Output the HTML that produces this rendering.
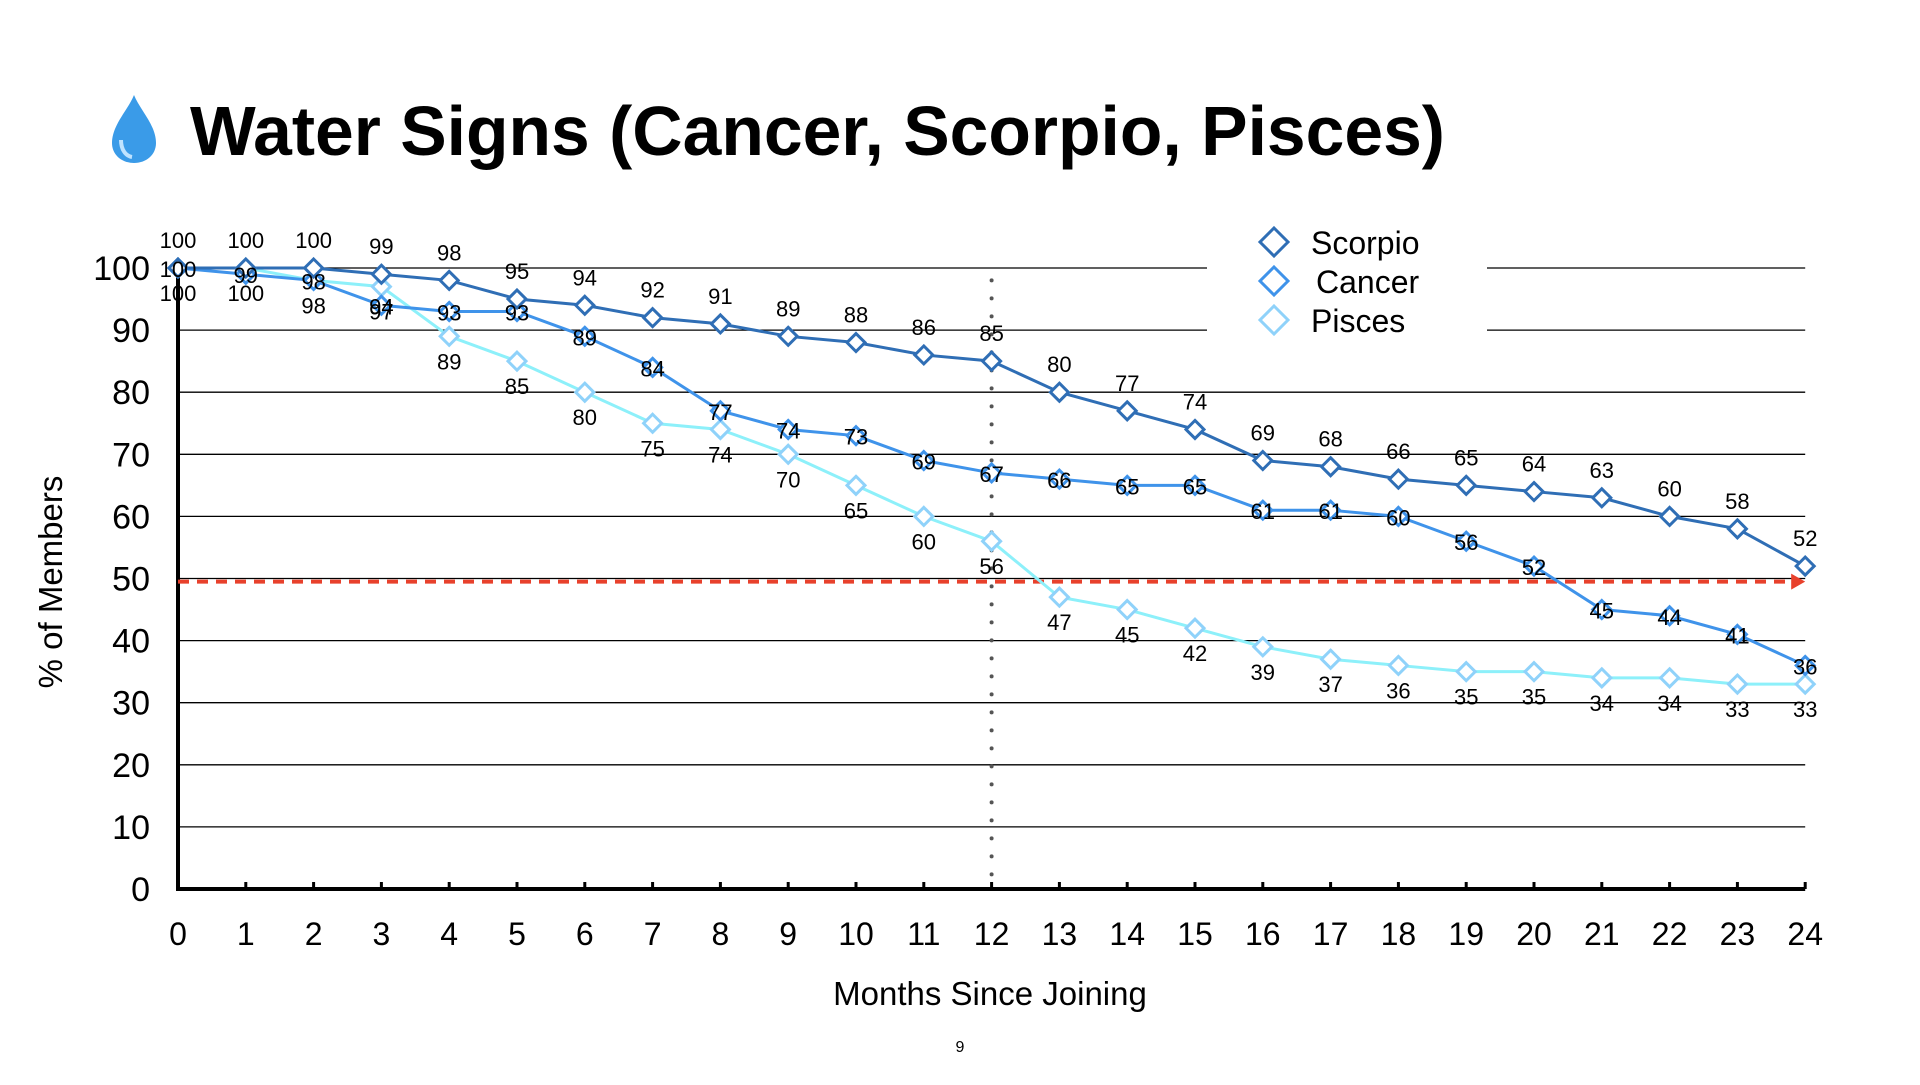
<!DOCTYPE html>
<html><head><meta charset="utf-8"><style>
body{margin:0;background:#fff;}
text{font-family:"Liberation Sans",sans-serif;}
</style></head><body>
<svg id="chart" width="1920" height="1080" viewBox="0 0 1920 1080" xmlns="http://www.w3.org/2000/svg">
<g>
<path d="M134,95 C128,110 112,125 112,143 C112,155 122,163 134,163 C146,163 156,155 156,143 C156,125 140,110 134,95 Z" fill="#3a9be8"/>
<path d="M121,140 C121,150 126,156 132,157" stroke="#bfe3ff" stroke-width="4" fill="none"/>
</g>
<text x="190" y="155" font-size="70" font-weight="bold" fill="#000" textLength="1255" lengthAdjust="spacingAndGlyphs">Water Signs (Cancer, Scorpio, Pisces)</text>
<g id="grid"></g>
<g id="marks"></g>
<text transform="translate(62,582) rotate(-90)" text-anchor="middle" font-size="33">% of Members</text>
<text x="990" y="1005" text-anchor="middle" font-size="33">Months Since Joining</text>
<text x="960" y="1052" text-anchor="middle" font-size="16">9</text>
</svg>
<script>
const months=[0,1,2,3,4,5,6,7,8,9,10,11,12,13,14,15,16,17,18,19,20,21,22,23,24];
const scorpio=[100,100,100,99,98,95,94,92,91,89,88,86,85,80,77,74,69,68,66,65,64,63,60,58,52];
const cancer=[100,99,98,94,93,93,89,84,77,74,73,69,67,66,65,65,61,61,60,56,52,45,44,41,36];
const pisces=[100,100,98,97,89,85,80,75,74,70,65,60,56,47,45,42,39,37,36,35,35,34,34,33,33];
const yTicks=[0,10,20,30,40,50,60,70,80,90,100];
const seriesNames=["Scorpio","Cancer","Pisces"];
const threshold=49.5;
const markerMonth=12;
const NS="http://www.w3.org/2000/svg";
const X=m=>178+m*67.8;
const Y=v=>889-v*6.21;
function mk(tag,attrs,parent){const e=document.createElementNS(NS,tag);for(const k in attrs)e.setAttribute(k,attrs[k]);parent.appendChild(e);return e;}
const grid=document.getElementById('grid'),marks=document.getElementById('marks');
yTicks.forEach(t=>{
 if(t>0){const l=mk('line',{x1:X(0),x2:X(24),y1:Y(t),y2:Y(t),stroke:'#000','stroke-width':1.3},grid);
 
 }
 const tx=mk('text',{x:150,y:Y(t)+12,'text-anchor':'end','font-size':34},grid);tx.textContent=t;
 
 
});
months.forEach(m=>{
 const tk=mk('line',{x1:X(m),x2:X(m),y1:Y(0),y2:Y(0)-7,stroke:'#000','stroke-width':3},grid);
 
 
 const tx=mk('text',{x:X(m),y:945,'text-anchor':'middle','font-size':32},grid);tx.textContent=m;
 
 
});
const ax=mk('path',{d:`M${X(0)},${Y(100)} V${Y(0)} H${X(24)}`,stroke:'#000','stroke-width':4,fill:'none'},grid);


const lb=mk('rect',{x:1207,y:222,width:280,height:120,fill:'#fff'},grid);


const vl=mk('line',{x1:X(markerMonth),x2:X(markerMonth),y1:Y(98),y2:Y(0),stroke:'#555','stroke-width':4,'stroke-dasharray':'0 18','stroke-linecap':'round'},marks);


const rl=mk('line',{x1:X(0),x2:X(24)-10,y1:Y(threshold),y2:Y(threshold),stroke:'#e8412c','stroke-width':4,'stroke-dasharray':'11 8'},marks);


const ra=mk('path',{d:`M${X(24)-14},${Y(threshold)-8} L${X(24)},${Y(threshold)} L${X(24)-14},${Y(threshold)+8}Z`,fill:'#e8412c'},marks);


const cfg=[
 {d:pisces,line:'#8df0fa',mark:'#8fd2fa',off:33,name:'pisces'},
 {d:cancer,line:'#3f93ea',mark:'#3f93ea',off:9,name:'cancer'},
 {d:scorpio,line:'#2f6eb5',mark:'#2f6eb5',off:-20,name:'scorpio'}];
cfg.forEach(c=>{
 const p=mk('polyline',{points:c.d.map((v,i)=>X(months[i])+','+Y(v)).join(' '),fill:'none',stroke:c.line,'stroke-width':3},marks);
 
 
});
cfg.forEach(c=>{
 c.d.forEach((v,i)=>{
  const x=X(months[i]),y=Y(v);
  const dm=mk('path',{d:`M${x},${y-9} L${x+9},${y} L${x},${y+9} L${x-9},${y}Z`,fill:'#fff',stroke:c.mark,'stroke-width':3},marks);
  
  
 });
});
cfg.forEach(c=>{
 c.d.forEach((v,i)=>{
  const t=mk('text',{x:X(months[i]),y:Y(v)+c.off,'text-anchor':'middle','font-size':22},marks);t.textContent=v;
  
  
 });
});
const lg=[['Scorpio','#2f6eb5',242],['Cancer','#3f93ea',281],['Pisces','#8fd2fa',320]];
lg.forEach(l=>{
 const g=mk('g',{},grid);
 
 
 mk('path',{d:`M1274,${l[2]-14} L1288,${l[2]} L1274,${l[2]+14} L1260,${l[2]}Z`,fill:'#fff',stroke:l[1],'stroke-width':3},g);
 const t=mk('text',{x:l[0]==='Cancer'?1316:1311,y:l[2]+12,'font-size':32},g);t.textContent=l[0];
});
</script>
</body></html>
